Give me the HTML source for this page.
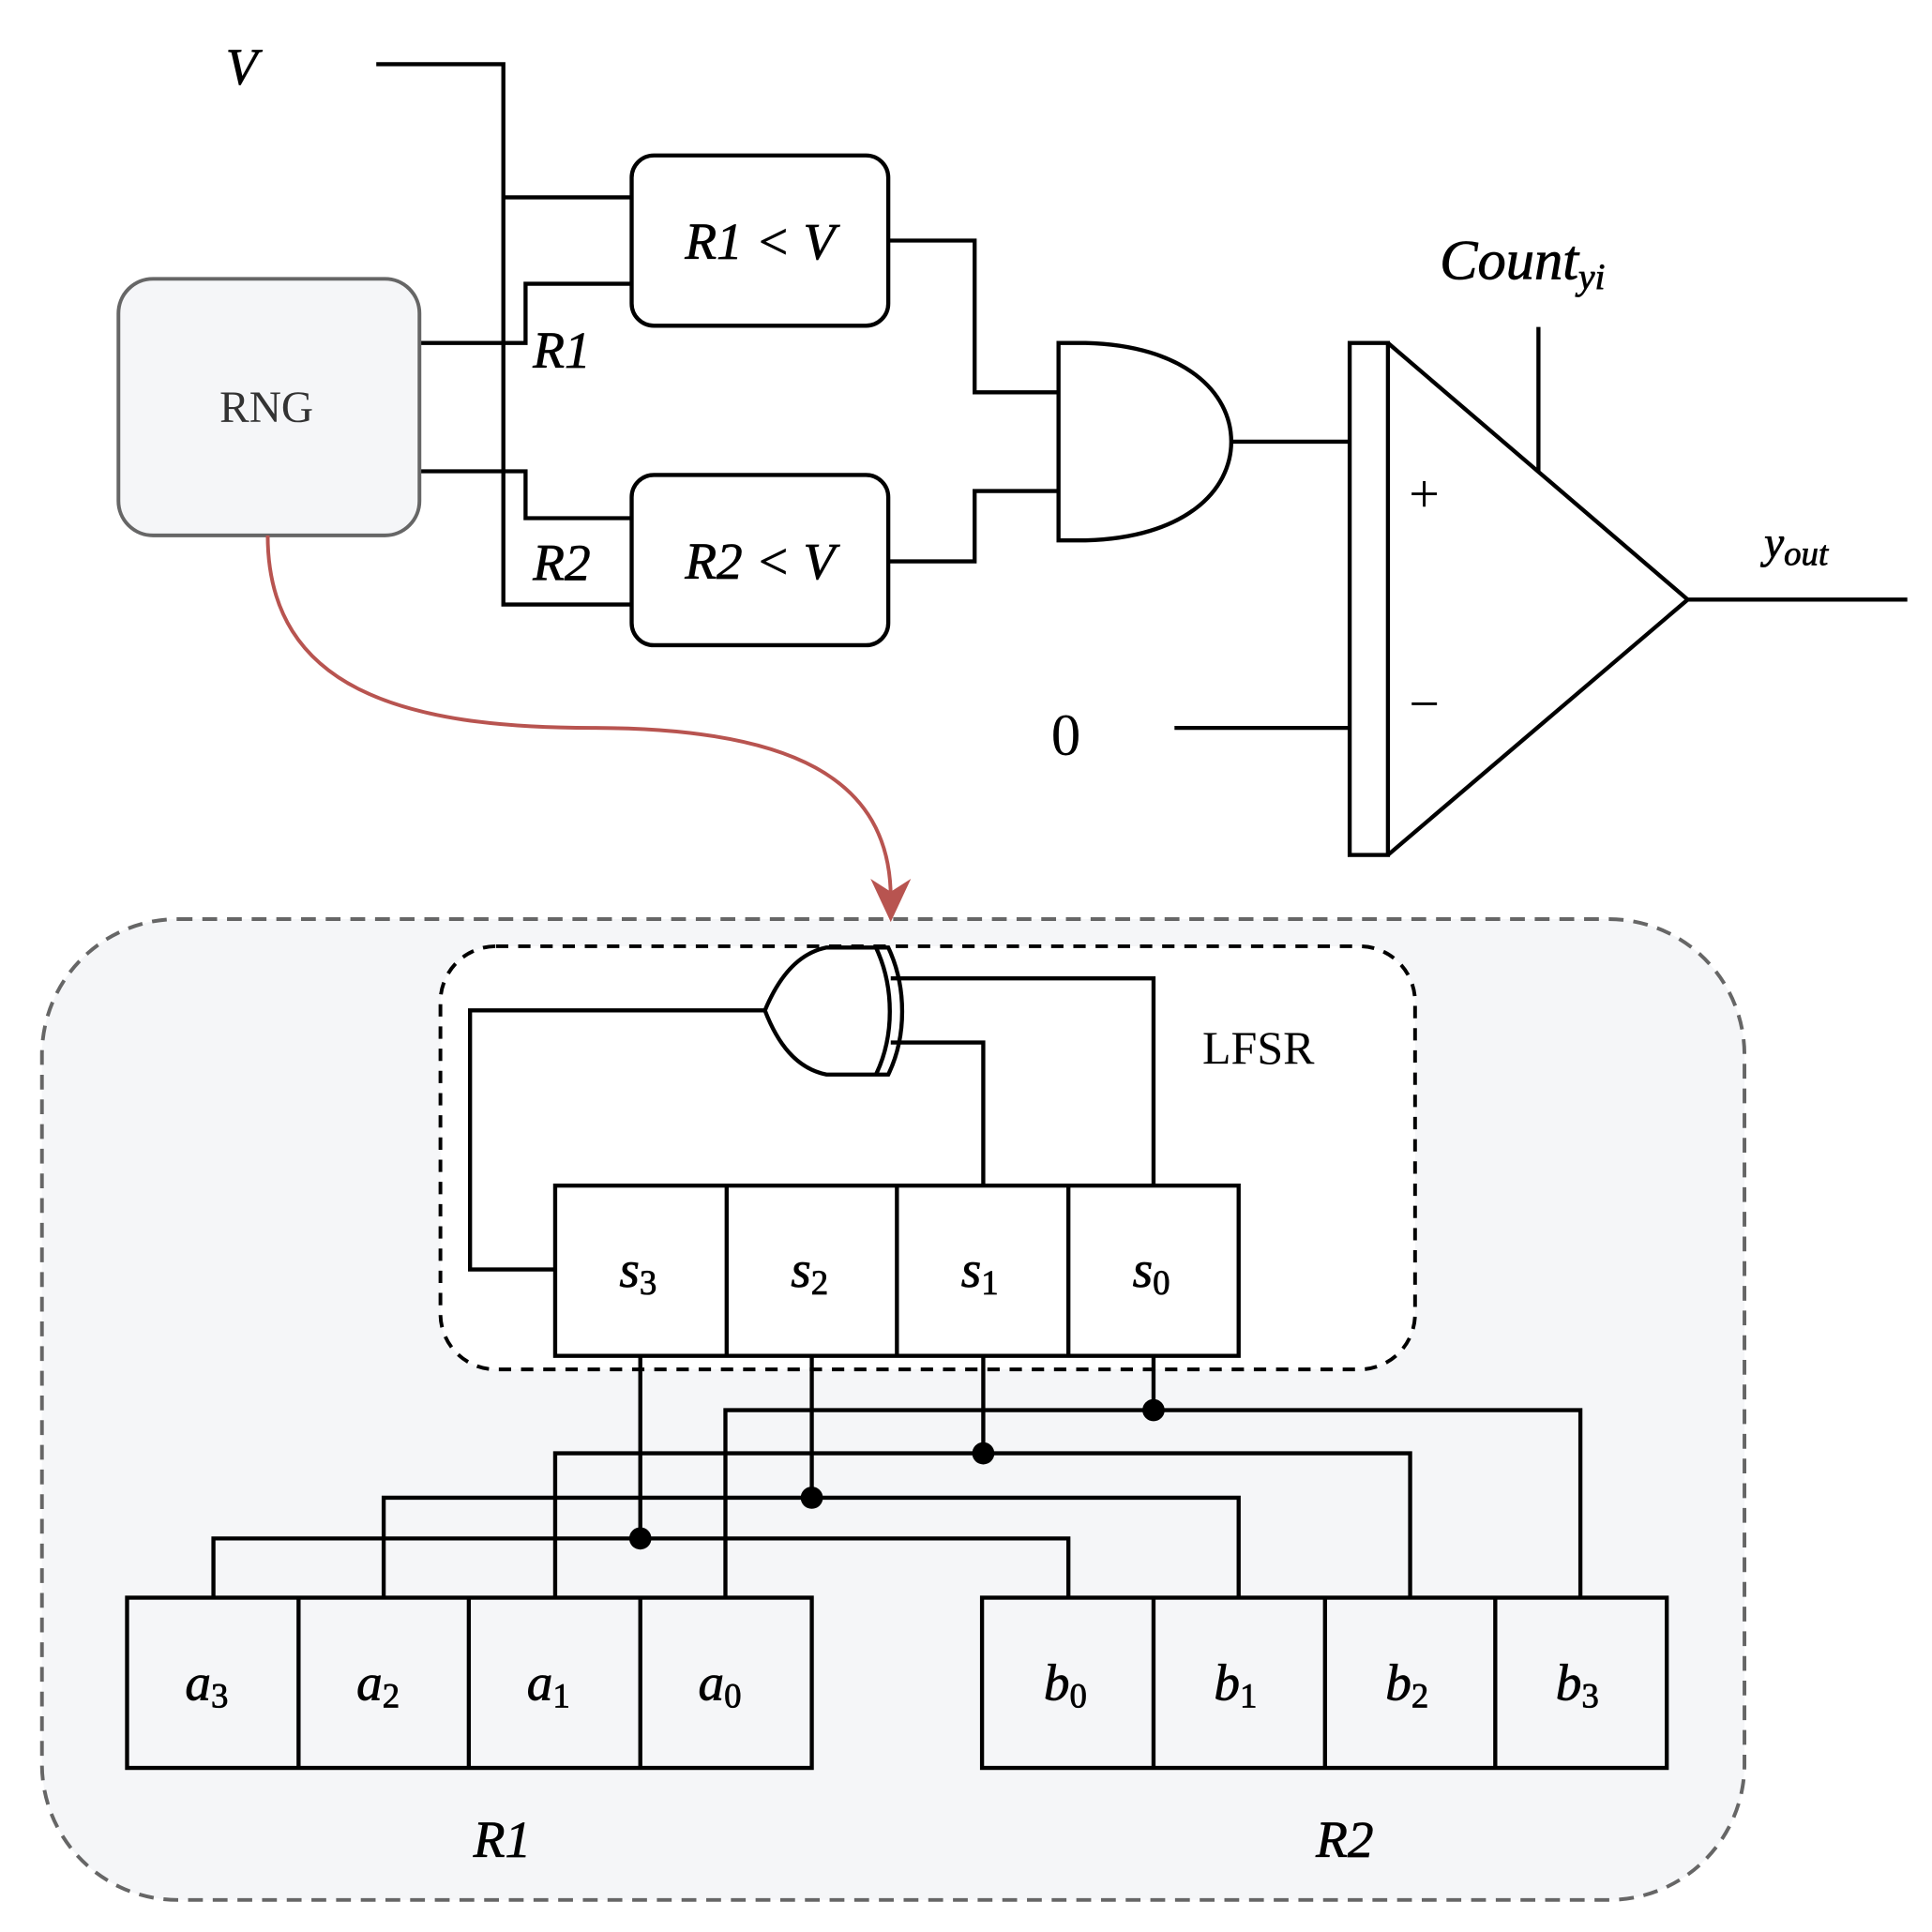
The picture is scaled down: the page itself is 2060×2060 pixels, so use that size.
<!DOCTYPE html>
<html><head><meta charset="utf-8"><style>html,body{margin:0;padding:0;background:#fff}svg{display:block}</style></head><body>
<svg width="2060" height="2060" viewBox="0 0 1566 1566" xmlns="http://www.w3.org/2000/svg" font-family="Liberation Serif, serif">
<rect x="34" y="745" width="1380" height="795" rx="110" fill="#f5f6f8" stroke="#666" stroke-width="3" stroke-dasharray="12 8"/>
<rect x="357" y="767" width="790" height="343" rx="45" fill="#fff" stroke="#000" stroke-width="3" stroke-dasharray="10 8"/>
<g fill="none" stroke="#000" stroke-width="3.3">
<path d="M305,52H408V490H512M408,160H512"/>
<path d="M340,278H426V230H512M340,382H426V420H512"/>
<rect x="512" y="126" width="208" height="138" rx="18" fill="#fff"/>
<rect x="512" y="385" width="208" height="138" rx="18" fill="#fff"/>
<path d="M720,195H790V318H858M720,455H790V398H858"/>
<path d="M858,278H880C960,280 998,318 998,358C998,398 960,436 880,438H858Z"/>
<path d="M998,358H1094"/>
<rect x="1094" y="278" width="31" height="415"/>
<path d="M1125,278L1368,486L1125,693M1247,265V382M952,590H1094M1368,486H1546"/>
<path d="M670,768H720C735,800 735,840 720,871H670C645,866 630,845 620,819C630,795 645,773 670,768Z"/>
<path d="M710,768C725,800 725,840 710,871"/>
<path d="M620,819H381V1029H450M935,960V793H722M797,960V845H722"/>
<rect x="450" y="961" width="554" height="138"/><path d="M589,961V1099M727,961V1099M866,961V1099"/>
<rect x="103" y="1295" width="555" height="138"/><path d="M242,1295V1433M380,1295V1433M519,1295V1433"/>
<rect x="796" y="1295" width="555" height="138"/><path d="M935,1295V1433M1074,1295V1433M1212,1295V1433"/>
<path d="M519,1099V1247M173,1295V1247H866V1295M658,1099V1214M311,1295V1214H1004V1295M797,1099V1178M450,1295V1178H1143V1295M935,1099V1143M588,1295V1143H1281V1295"/>
</g>
<g fill="#000"><circle cx="519" cy="1247" r="9"/><circle cx="658" cy="1214" r="9"/><circle cx="797" cy="1178" r="9"/><circle cx="935" cy="1143" r="9"/></g>
<rect x="96" y="226" width="244" height="208" rx="28" fill="#f5f6f8" stroke="#666" stroke-width="3"/>
<text x="216" y="342" font-size="36" fill="#333" text-anchor="middle">RNG</text>
<path d="M217,434C217,560 330,590 480,590C640,590 722,630 722,728" fill="none" stroke="#b85450" stroke-width="3"/>
<path d="M708,715L722,745L736,715L722,724Z" fill="#b85450" stroke="#b85450" stroke-width="2"/>
<g font-style="italic" font-size="42" fill="#000" stroke="#000" stroke-width="0.6">
<text x="183" y="68">V</text>
<text x="432" y="298">R1</text>
<text x="432" y="470">R2</text>
<text x="616" y="210" text-anchor="middle">R1 &lt; V</text>
<text x="616" y="469" text-anchor="middle">R2 &lt; V</text>
<text x="1167" y="226" font-size="46">Count<tspan font-size="30" dy="8">yi</tspan></text>
<text x="1430" y="452" font-size="36">y<tspan font-size="28" dy="6">out</tspan></text>
<text x="407" y="1505" text-anchor="middle">R1</text>
<text x="1090" y="1505" text-anchor="middle">R2</text>
<text x="502" y="1043">s<tspan font-size="28" font-style="normal" dy="6">3</tspan></text>
<text x="641" y="1043">s<tspan font-size="28" font-style="normal" dy="6">2</tspan></text>
<text x="779" y="1043">s<tspan font-size="28" font-style="normal" dy="6">1</tspan></text>
<text x="918" y="1043">s<tspan font-size="28" font-style="normal" dy="6">0</tspan></text>
<text x="150" y="1378">a<tspan font-size="28" font-style="normal" dy="6">3</tspan></text>
<text x="289" y="1378">a<tspan font-size="28" font-style="normal" dy="6">2</tspan></text>
<text x="427" y="1378">a<tspan font-size="28" font-style="normal" dy="6">1</tspan></text>
<text x="566" y="1378">a<tspan font-size="28" font-style="normal" dy="6">0</tspan></text>
<text x="846" y="1378">b<tspan font-size="28" font-style="normal" dy="6">0</tspan></text>
<text x="984" y="1378">b<tspan font-size="28" font-style="normal" dy="6">1</tspan></text>
<text x="1123" y="1378">b<tspan font-size="28" font-style="normal" dy="6">2</tspan></text>
<text x="1261" y="1378">b<tspan font-size="28" font-style="normal" dy="6">3</tspan></text>
</g>
<text x="1142" y="415" font-size="44">+</text>
<text x="1142" y="585" font-size="44">−</text>
<text x="864" y="612" font-size="48" text-anchor="middle">0</text>
<text x="1020" y="862" font-size="38" text-anchor="middle">LFSR</text>
</svg>
</body></html>
